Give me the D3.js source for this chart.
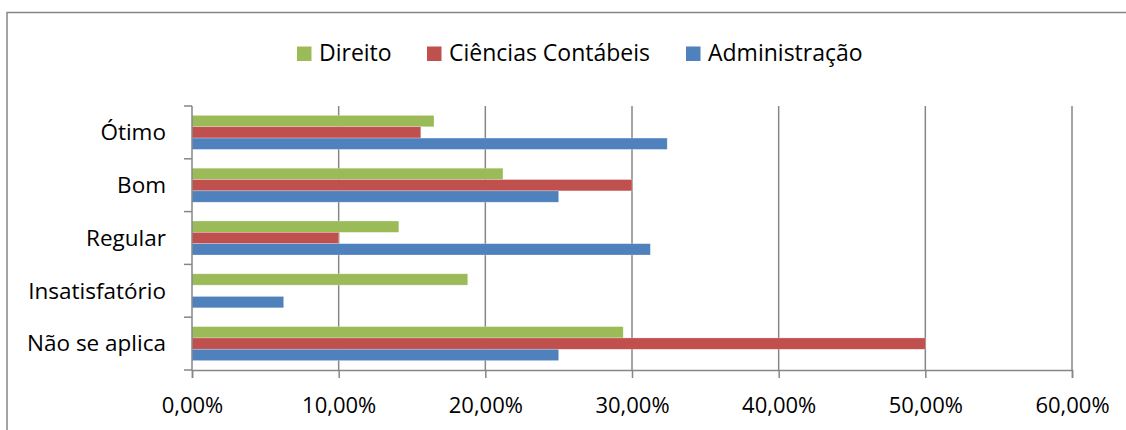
<!DOCTYPE html>
<html>
<head>
<meta charset="utf-8">
<script src="https://cdn.jsdelivr.net/npm/d3@7"></script>
<style>
  body { margin: 0; background: #fff; }
  svg { display: block; font-family: "Open Sans", "Noto Sans", sans-serif; }
</style>
</head>
<body>
<div id="chart"></div>
<script>
// categorias (de cima para baixo) e séries
const categories = ['Ótimo', 'Bom', 'Regular', 'Insatisfatório', 'Não se aplica'];
const series = ['Direito', 'Ciências Contábeis', 'Administração'];
const seriesColors = ['#9BBB59', '#C0504D', '#4F81BD'];

// valores em %
const direito = [16.5, 21.2, 14.1, 18.8, 29.4];
const contabeis = [15.6, 30.0, 10.0, 0, 50.0];
const administracao = [32.4, 25.0, 31.25, 6.25, 25.0];

const xTicks = [0, 10, 20, 30, 40, 50, 60];

const width = 1126, height = 430;
const plot = { left: 192, right: 1072, top: 106, bottom: 370 };

const svg = d3.select('#chart').append('svg')
    .attr('width', width)
    .attr('height', height);

// moldura do gráfico
svg.append('rect')
    .attr('x', 7).attr('y', 12.5)
    .attr('width', 1130).attr('height', 440)
    .attr('fill', 'none')
    .attr('stroke', '#868686')
    .attr('stroke-width', 1.5);

const x = d3.scaleLinear().domain([0, 60]).range([plot.left, plot.right]);
const y0 = d3.scaleBand().domain(categories).range([plot.top, plot.bottom]);
const y1 = d3.scaleBand().domain(series).range([0, y0.bandwidth()]).paddingOuter(0.83);

// linhas de grade
svg.append('g')
    .selectAll('line')
    .data(xTicks.filter(d => d > 0))
    .enter().append('line')
    .attr('x1', d => x(d)).attr('x2', d => x(d))
    .attr('y1', plot.top).attr('y2', plot.bottom)
    .attr('stroke', '#868686')
    .attr('stroke-width', 1.5);

// barras
const table = categories.map((c, i) => ({
    cat: c,
    vals: [direito[i], contabeis[i], administracao[i]]
}));

const groups = svg.append('g')
    .selectAll('g')
    .data(table)
    .enter().append('g')
    .attr('transform', d => `translate(0, ${y0(d.cat)})`);

groups.selectAll('rect')
    .data(d => d.vals.map((v, j) => ({ s: series[j], v, j })))
    .enter().append('rect')
    .filter(d => d.v > 0)
    .attr('x', x(0))
    .attr('y', d => y1(d.s))
    .attr('width', d => x(d.v) - x(0))
    .attr('height', y1.bandwidth())
    .attr('fill', d => seriesColors[d.j])
    .attr('stroke', 'rgba(255,255,255,0.35)')
    .attr('stroke-width', 0.7);

// eixo x
const xAxis = svg.append('g')
    .attr('transform', `translate(0, ${plot.bottom})`)
    .call(d3.axisBottom(x)
        .tickValues(xTicks)
        .tickSize(8)
        .tickFormat(d => d.toFixed(2).replace('.', ',') + '%'));
xAxis.select('.domain').attr('stroke', '#868686').attr('stroke-width', 1.5);
xAxis.selectAll('.tick line').attr('stroke', '#868686').attr('stroke-width', 1.5);
xAxis.selectAll('.tick text')
    .attr('y', 42.5)
    .attr('dy', null)
    .attr('fill', '#000')
    .attr('font-size', '22px')
    .attr('font-family', '"Open Sans", sans-serif');

// eixo y (marcas entre categorias)
const boundaries = categories.map(c => y0(c)).concat([plot.bottom]);
svg.append('line')
    .attr('x1', plot.left).attr('x2', plot.left)
    .attr('y1', plot.top).attr('y2', plot.bottom)
    .attr('stroke', '#868686').attr('stroke-width', 1.5);
svg.append('g')
    .selectAll('line')
    .data(boundaries)
    .enter().append('line')
    .attr('x1', plot.left - 8).attr('x2', plot.left)
    .attr('y1', d => d).attr('y2', d => d)
    .attr('stroke', '#868686').attr('stroke-width', 1.5);

svg.append('g')
    .selectAll('text')
    .data(categories)
    .enter().append('text')
    .attr('x', 166)
    .attr('y', d => y0(d) + y0.bandwidth() / 2 + 7.7)
    .attr('text-anchor', 'end')
    .attr('font-size', '22.5px')
    .attr('fill', '#000')
    .text(d => d);

// legenda
const legendX = [297, 427, 686];
const legend = svg.append('g');
series.forEach((s, i) => {
    legend.append('rect')
        .attr('x', legendX[i]).attr('y', 46.5)
        .attr('width', 14.5).attr('height', 14.5)
        .attr('fill', seriesColors[i]);
    legend.append('text')
        .attr('x', legendX[i] + 22)
        .attr('y', 61)
        .attr('font-size', '23px')
        .attr('fill', '#000')
        .text(s);
});
</script>
</body>
</html>
